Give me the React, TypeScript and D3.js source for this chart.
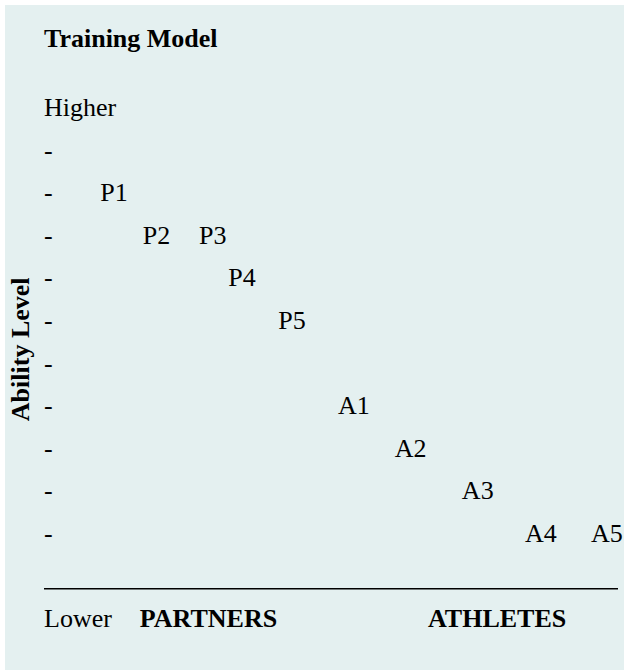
import React from "react";
import * as d3 from "d3";

// ---- data ----
const title = "Training Model";
const yAxisTitle = "Ability Level";
const topLabel = "Higher";
const bottomLabel = "Lower";
const tickLevels = [10, 9, 8, 7, 6, 5, 4, 3, 2, 1];
const pointLabels = ["P1", "P2", "P3", "P4", "P5", "A1", "A2", "A3", "A4", "A5"];
const pointLevels = [9, 8, 8, 7, 6, 4, 3, 2, 1, 1];
const pointPositions = [9.8, 17.2, 27.0, 32.1, 40.8, 51.2, 61.1, 72.8, 83.8, 95.3];
const groupLabels = ["PARTNERS", "ATHLETES"];
const groupPositions = [16.7, 66.9];

const W = 624;
const H = 670;
const FONT = "'Liberation Serif', 'Times New Roman', Times, serif";
const FS = 26;

export default function App() {
  const x = d3.scaleLinear().domain([0, 100]).range([44, 618]);
  // level 11 = "Higher" row, 0 = axis line, -1 = "Lower" row (text baselines)
  const y = d3.scaleLinear().domain([11, -1]).range([116, 627.2]);
  const lineY = Math.round(y(0) + 3.3);
  return (
    <svg
      width={W}
      height={H}
      style={{ position: "absolute", left: 0, top: 0, display: "block" }}
      fontFamily={FONT}
      fontSize={FS}
    >
      <rect x={5} y={5} width={W - 5} height={H - 5} fill="#e4f0f0" />
      <text x={x(0)} y={47} fontWeight="bold" fill="#000">
        {title}
      </text>
      <text x={x(0)} y={y(11)} fill="#000">
        {topLabel}
      </text>
      {tickLevels.map((l) => (
        <text key={"t" + l} x={x(0)} y={y(l)} fill="#000">
          -
        </text>
      ))}
      {pointLabels.map((lab, i) => (
        <text key={lab} x={x(pointPositions[i])} y={y(pointLevels[i])} fill="#000">
          {lab}
        </text>
      ))}
      <rect x={x(0)} y={lineY} width={x(100) - x(0)} height={1.5} fill="#000" />
      <text x={x(0)} y={y(-1)} fill="#000">
        {bottomLabel}
      </text>
      {groupLabels.map((g, i) => (
        <text key={g} x={x(groupPositions[i])} y={y(-1)} fontWeight="bold" fill="#000">
          {g}
        </text>
      ))}
      <text
        transform={`translate(29, ${(y(7) + y(4)) / 2 - 1}) rotate(-90)`}
        textAnchor="middle"
        fontWeight="bold"
        fill="#000"
      >
        {yAxisTitle}
      </text>
    </svg>
  );
}
